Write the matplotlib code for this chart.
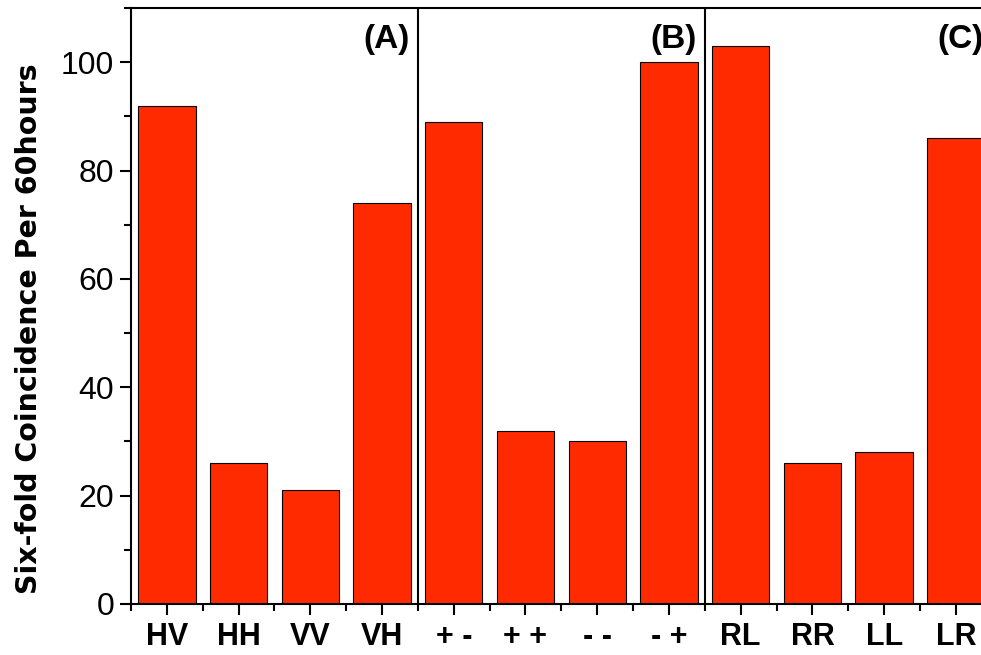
import numpy as np
import matplotlib.pyplot as plt
from matplotlib.ticker import MultipleLocator

plt.rcParams['font.family'] = ['Liberation Sans', 'DejaVu Sans']

# -------------------------------------------------------
# Data
# -------------------------------------------------------
labels = ["HV", "HH", "VV", "VH", "+ -", "+ +", "- -", "- +",
          "RL", "RR", "LL", "LR"]
counts = [92, 26, 21, 74, 89, 32, 30, 100, 103, 26, 28, 86]
panel_names = ["(A)", "(B)", "(C)"]


def main():
    fig = plt.figure(figsize=(9.81, 6.55), dpi=100)
    ax = fig.add_axes([0.1335, 0.0779, 0.8665, 0.9099])

    x = np.arange(1, len(labels) + 1)
    ax.bar(x, counts, width=0.8, color="#ff2a00", edgecolor="black",
           linewidth=0.8)

    # group separators
    for sep in (4.5, 8.5):
        ax.axvline(sep, color="black", linewidth=1.5)

    # panel tags, top-right of each group
    for k, name in enumerate(panel_names):
        ax.text(4 * (k + 1) + 0.39, 104.2, name, ha="right", va="center",
                fontsize=24, fontweight="bold")

    ax.set_xlim(0.5, 12.35)
    ax.set_ylim(0, 110)

    ax.set_xticks(x)
    ax.set_xticklabels(labels, fontsize=22, fontweight="bold")
    ax.set_xticks(x - 0.5, minor=True)

    ax.yaxis.set_major_locator(MultipleLocator(20))
    ax.yaxis.set_minor_locator(MultipleLocator(10))
    ax.tick_params(axis="y", labelsize=23, pad=4)
    ax.tick_params(which="major", direction="out", length=8, width=1.5)
    ax.tick_params(which="minor", direction="out", length=5, width=1.5)
    ax.tick_params(axis="x", pad=5)

    ax.set_ylabel("Six-fold Coincidence Per 60hours", fontsize=20.5,
                  fontweight="bold", family="DejaVu Sans")
    ax.yaxis.set_label_coords(-0.104, 0.4614)

    ax.spines["right"].set_visible(False)
    for side in ("left", "top", "bottom"):
        ax.spines[side].set_linewidth(1.5)

    fig.savefig("out.png", dpi=100)


if __name__ == "__main__":
    main()
